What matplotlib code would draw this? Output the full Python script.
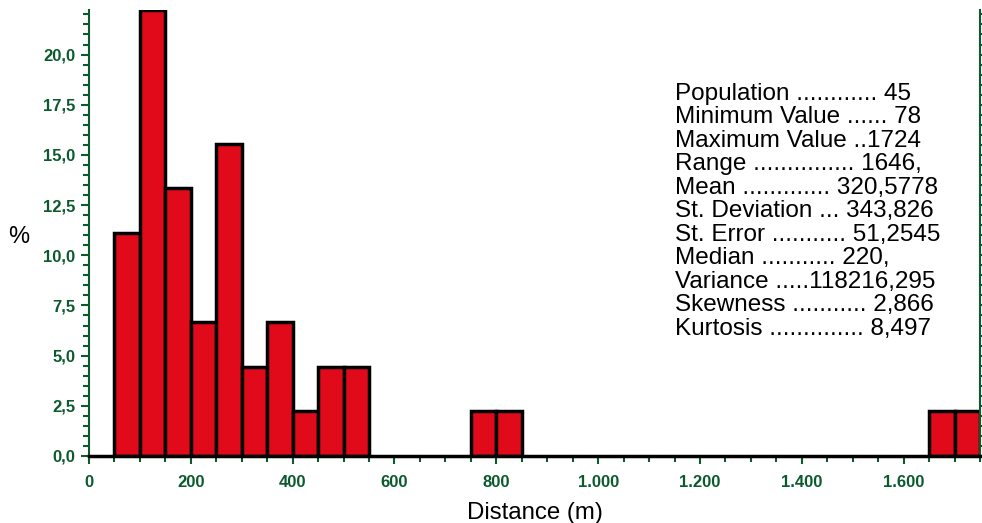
import matplotlib
matplotlib.use("Agg")
import matplotlib.pyplot as plt
from matplotlib.ticker import MultipleLocator, FuncFormatter

plt.rcParams['font.family'] = ['Liberation Sans', 'DejaVu Sans']

# histogram bins (left edges, m) and share of population (%)
bin_left = [50, 100, 150, 200, 250, 300, 350, 400, 450, 500, 750, 800, 1650, 1700]
percent = [11.11, 22.22, 13.33, 6.67, 15.56, 4.44, 6.67, 2.22, 4.44, 4.44,
           2.22, 2.22, 2.22, 2.22]
bin_width = 50

stats_lines = [
    "Population ............ 45",
    "Minimum Value ...... 78",
    "Maximum Value ..1724",
    "Range ............... 1646,",
    "Mean ............. 320,5778",
    "St. Deviation ... 343,826",
    "St. Error ........... 51,2545",
    "Median ........... 220,",
    "Variance .....118216,295",
    "Skewness ........... 2,866",
    "Kurtosis .............. 8,497",
]

green = '#0b5a2e'
red = '#e10a1a'

fig = plt.figure(figsize=(9.82, 5.23), dpi=100)
ax = fig.add_axes([89 / 982, 1 - 456 / 523, (980 - 89) / 982, (456 - 10) / 523])

ax.bar(bin_left, percent, width=bin_width, align='edge', color=red,
       edgecolor='black', linewidth=2.5, zorder=2)

ax.set_xlim(0, 1750)
ax.set_ylim(0, max(percent))

ax.xaxis.set_major_locator(MultipleLocator(200))
ax.xaxis.set_minor_locator(MultipleLocator(50))
ax.yaxis.set_major_locator(MultipleLocator(2.5))
ax.yaxis.set_minor_locator(MultipleLocator(0.5))

ax.xaxis.set_major_formatter(FuncFormatter(lambda v, p: f"{int(v):,}".replace(",", ".")))
ax.yaxis.set_major_formatter(FuncFormatter(lambda v, p: f"{v:.1f}".replace(".", ",")))

for s in ['left', 'right']:
    ax.spines[s].set_color(green)
    ax.spines[s].set_linewidth(1.5)
ax.spines['top'].set_visible(False)
ax.spines['bottom'].set_color('black')
ax.spines['bottom'].set_linewidth(2.5)
ax.spines['bottom'].set_zorder(3)

ax.tick_params(axis='both', which='both', color=green, width=1.5,
               labelcolor=green, labelsize=12)
ax.tick_params(axis='y', which='both', right=True, direction='out', pad=4)
ax.tick_params(which='major', length=6)
ax.tick_params(which='minor', length=4)
ax.tick_params(axis='x', pad=8)
for lbl in ax.get_xticklabels() + ax.get_yticklabels():
    lbl.set_fontweight('bold')

ax.set_xlabel("Distance (m)", fontsize=17.3, labelpad=8)
ax.set_ylabel("%", fontsize=17, rotation=0, va='center', ha='center')
ax.yaxis.set_label_coords(-0.079, 0.49)

ax.text(0.658, 0.837, "\n".join(stats_lines), transform=ax.transAxes,
        fontsize=17.5, va='top', ha='left', linespacing=1.09)

fig.savefig("out.png", dpi=100)
